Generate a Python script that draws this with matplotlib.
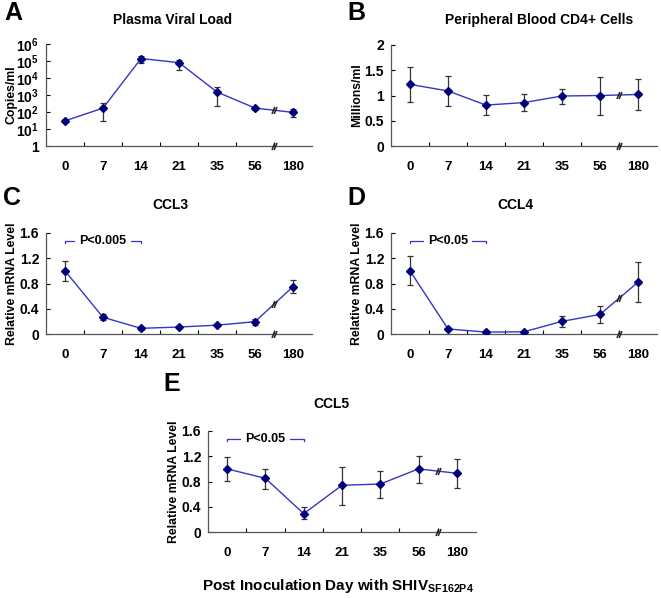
import numpy as np
import matplotlib
matplotlib.use('Agg')
import matplotlib.pyplot as plt
from matplotlib.path import Path

plt.rcParams['font.family'] = 'Liberation Sans'
plt.rcParams['font.weight'] = 'bold'
plt.rcParams['axes.labelweight'] = 'bold'
plt.rcParams['mathtext.fontset'] = 'custom'
plt.rcParams['mathtext.rm'] = 'Liberation Sans:bold'
plt.rcParams['mathtext.it'] = 'Liberation Sans:bold'
plt.rcParams['mathtext.bf'] = 'Liberation Sans:bold'

# %%
# data
days = ['0', '7', '14', '21', '35', '56', '180']

viral_load = [30, 170, 1.4e5, 8.0e4, 1.5e3, 170, 95]
viral_lo = [25, 28, 7.5e4, 3.0e4, 230, 140, 50]
viral_hi = [37, 330, 1.95e5, 1.1e5, 2.8e3, 210, 145]

cd4 = [1.22, 1.09, 0.81, 0.86, 0.99, 1.00, 1.02]
cd4_lo = [0.88, 0.79, 0.61, 0.70, 0.84, 0.62, 0.71]
cd4_hi = [1.56, 1.39, 1.01, 1.02, 1.13, 1.37, 1.33]

ccl3 = [1.00, 0.265, 0.09, 0.11, 0.14, 0.195, 0.75]
ccl3_lo = [0.84, 0.22, 0.07, 0.09, 0.12, 0.15, 0.65]
ccl3_hi = [1.16, 0.31, 0.11, 0.13, 0.16, 0.24, 0.86]

ccl4 = [1.00, 0.08, 0.03, 0.035, 0.20, 0.31, 0.82]
ccl4_lo = [0.77, 0.06, 0.02, 0.025, 0.11, 0.17, 0.50]
ccl4_hi = [1.23, 0.10, 0.04, 0.045, 0.29, 0.45, 1.14]

ccl5 = [1.00, 0.85, 0.29, 0.74, 0.76, 1.00, 0.93]
ccl5_lo = [0.81, 0.68, 0.20, 0.43, 0.54, 0.78, 0.70]
ccl5_hi = [1.19, 1.00, 0.39, 1.03, 0.97, 1.21, 1.15]

line_col = '#3535c8'
mark_col = '#00007a'

# break symbol "//"
brk = Path([(-1.6, -2.2), (0.2, 2.2), (-0.2, -2.2), (1.6, 2.2)],
           [Path.MOVETO, Path.LINETO, Path.MOVETO, Path.LINETO])


def panel(rect, vals, lo, hi, ylabel, ylim, yticks, ytlabels,
          logy=False, ptext=None):
    ax = fig.add_axes(rect)
    x = np.arange(len(days)) + 0.5
    vals = np.array(vals)
    err = [vals - np.array(lo), np.array(hi) - vals]
    ax.errorbar(x, vals, yerr=err, fmt='none', ecolor='#333333',
                elinewidth=0.9, capsize=2, capthick=0.9, zorder=2)
    ax.plot(x, vals, color=line_col, lw=1.0, marker='D', ms=4.5,
            mfc=mark_col, mec=mark_col, zorder=3)
    if logy:
        ax.set_yscale('log')
    ax.set_xlim(0, len(days))
    ax.set_ylim(*ylim)
    ax.set_yticks(yticks)
    ax.set_yticklabels(ytlabels)
    ax.yaxis.set_minor_locator(plt.NullLocator())

    ax.set_xticks(np.arange(1, len(days)))
    ax.set_xticklabels([])
    ax.set_xticks(x, minor=True)
    ax.set_xticklabels(days, minor=True)
    ax.tick_params(axis='x', which='major', direction='in', length=3, width=0.8)
    ax.tick_params(axis='x', which='minor', length=0, pad=11, labelsize=9.5)
    ax.tick_params(axis='y', direction='in', length=3, width=0.8, pad=5,
                   labelsize=10)
    for s in ['top', 'right']:
        ax.spines[s].set_visible(False)
    for s in ['left', 'bottom']:
        ax.spines[s].set_color('#555555')
        ax.spines[s].set_linewidth(0.9)

    # break marks between 56 and 180
    if logy:
        ymid = np.sqrt(vals[5] * vals[6])
    else:
        ymid = (vals[5] + vals[6]) / 2
    ax.plot([6], [ymid], marker=brk, ms=5, mec='#222222', mew=1.1,
            ls='none', zorder=4)
    ax.plot([6], [ylim[0]], marker=brk, ms=5, mec='#222222', mew=1.1,
            ls='none', zorder=4, clip_on=False)

    ax.set_ylabel(ylabel, fontsize=8.8, va='center')
    ax.yaxis.set_label_coords(-0.128, 0.5)

    if ptext is not None:
        yb = 1.48
        ax.plot([0.5, 0.5, 2.5, 2.5], [yb - 0.04, yb, yb, yb - 0.04],
                color=line_col, lw=0.9, zorder=2)
        ax.text(1.5, yb, ptext, ha='center', va='center', fontsize=9,
                bbox=dict(facecolor='white', edgecolor='none', pad=3),
                zorder=3)
    return ax


fig = plt.figure(figsize=(6.61, 5.98), dpi=100)
W, H = 661.0, 598.0


def r(left, top, right, bottom):
    return [left / W, 1 - bottom / H, (right - left) / W, (bottom - top) / H]


panel(r(46, 44, 312, 146), viral_load, viral_lo, viral_hi,
      'Copies/ml', (1, 1e6), [10 ** k for k in range(7)],
      ['1'] + ['10$^{%d}$' % k for k in range(1, 7)], logy=True)
panel(r(391, 45, 657, 146), cd4, cd4_lo, cd4_hi,
      'Millions/ml', (0, 2),
      [0, 0.5, 1, 1.5, 2], ['0', '0.5', '1', '1.5', '2'])
mrna_ticks = [0, 0.4, 0.8, 1.2, 1.6]
mrna_labels = ['0', '0.4', '0.8', '1.2', '1.6']
panel(r(46, 233, 312, 334), ccl3, ccl3_lo, ccl3_hi,
      'Relative mRNA Level', (0, 1.6), mrna_ticks, mrna_labels,
      ptext='P<0.005')
panel(r(391, 233, 657, 334), ccl4, ccl4_lo, ccl4_hi,
      'Relative mRNA Level', (0, 1.6), mrna_ticks, mrna_labels,
      ptext='P<0.05')
panel(r(208, 431, 476, 532), ccl5, ccl5_lo, ccl5_hi,
      'Relative mRNA Level', (0, 1.6), mrna_ticks, mrna_labels,
      ptext='P<0.05')

# titles and panel letters
titles = [('Plasma Viral Load', 173, 20), ('Peripheral Blood CD4+ Cells', 539, 20),
          ('CCL3', 170, 205), ('CCL4', 515, 205), ('CCL5', 331, 404)]
for t, px, py in titles:
    fig.text(px / W, 1 - py / H, t, ha='center', va='center', fontsize=10)

letters = [('A', 13, 13), ('B', 356, 13), ('C', 12, 198), ('D', 356, 198),
           ('E', 172, 384)]
for t, px, py in letters:
    fig.text(px / W, 1 - py / H, t, ha='center', va='center', fontsize=18)

fig.text(338 / W, 1 - 586 / H, 'Post Inoculation Day with SHIV$_{SF162P4}$',
         ha='center', va='center', fontsize=11)

plt.savefig('out.png', dpi=100)
